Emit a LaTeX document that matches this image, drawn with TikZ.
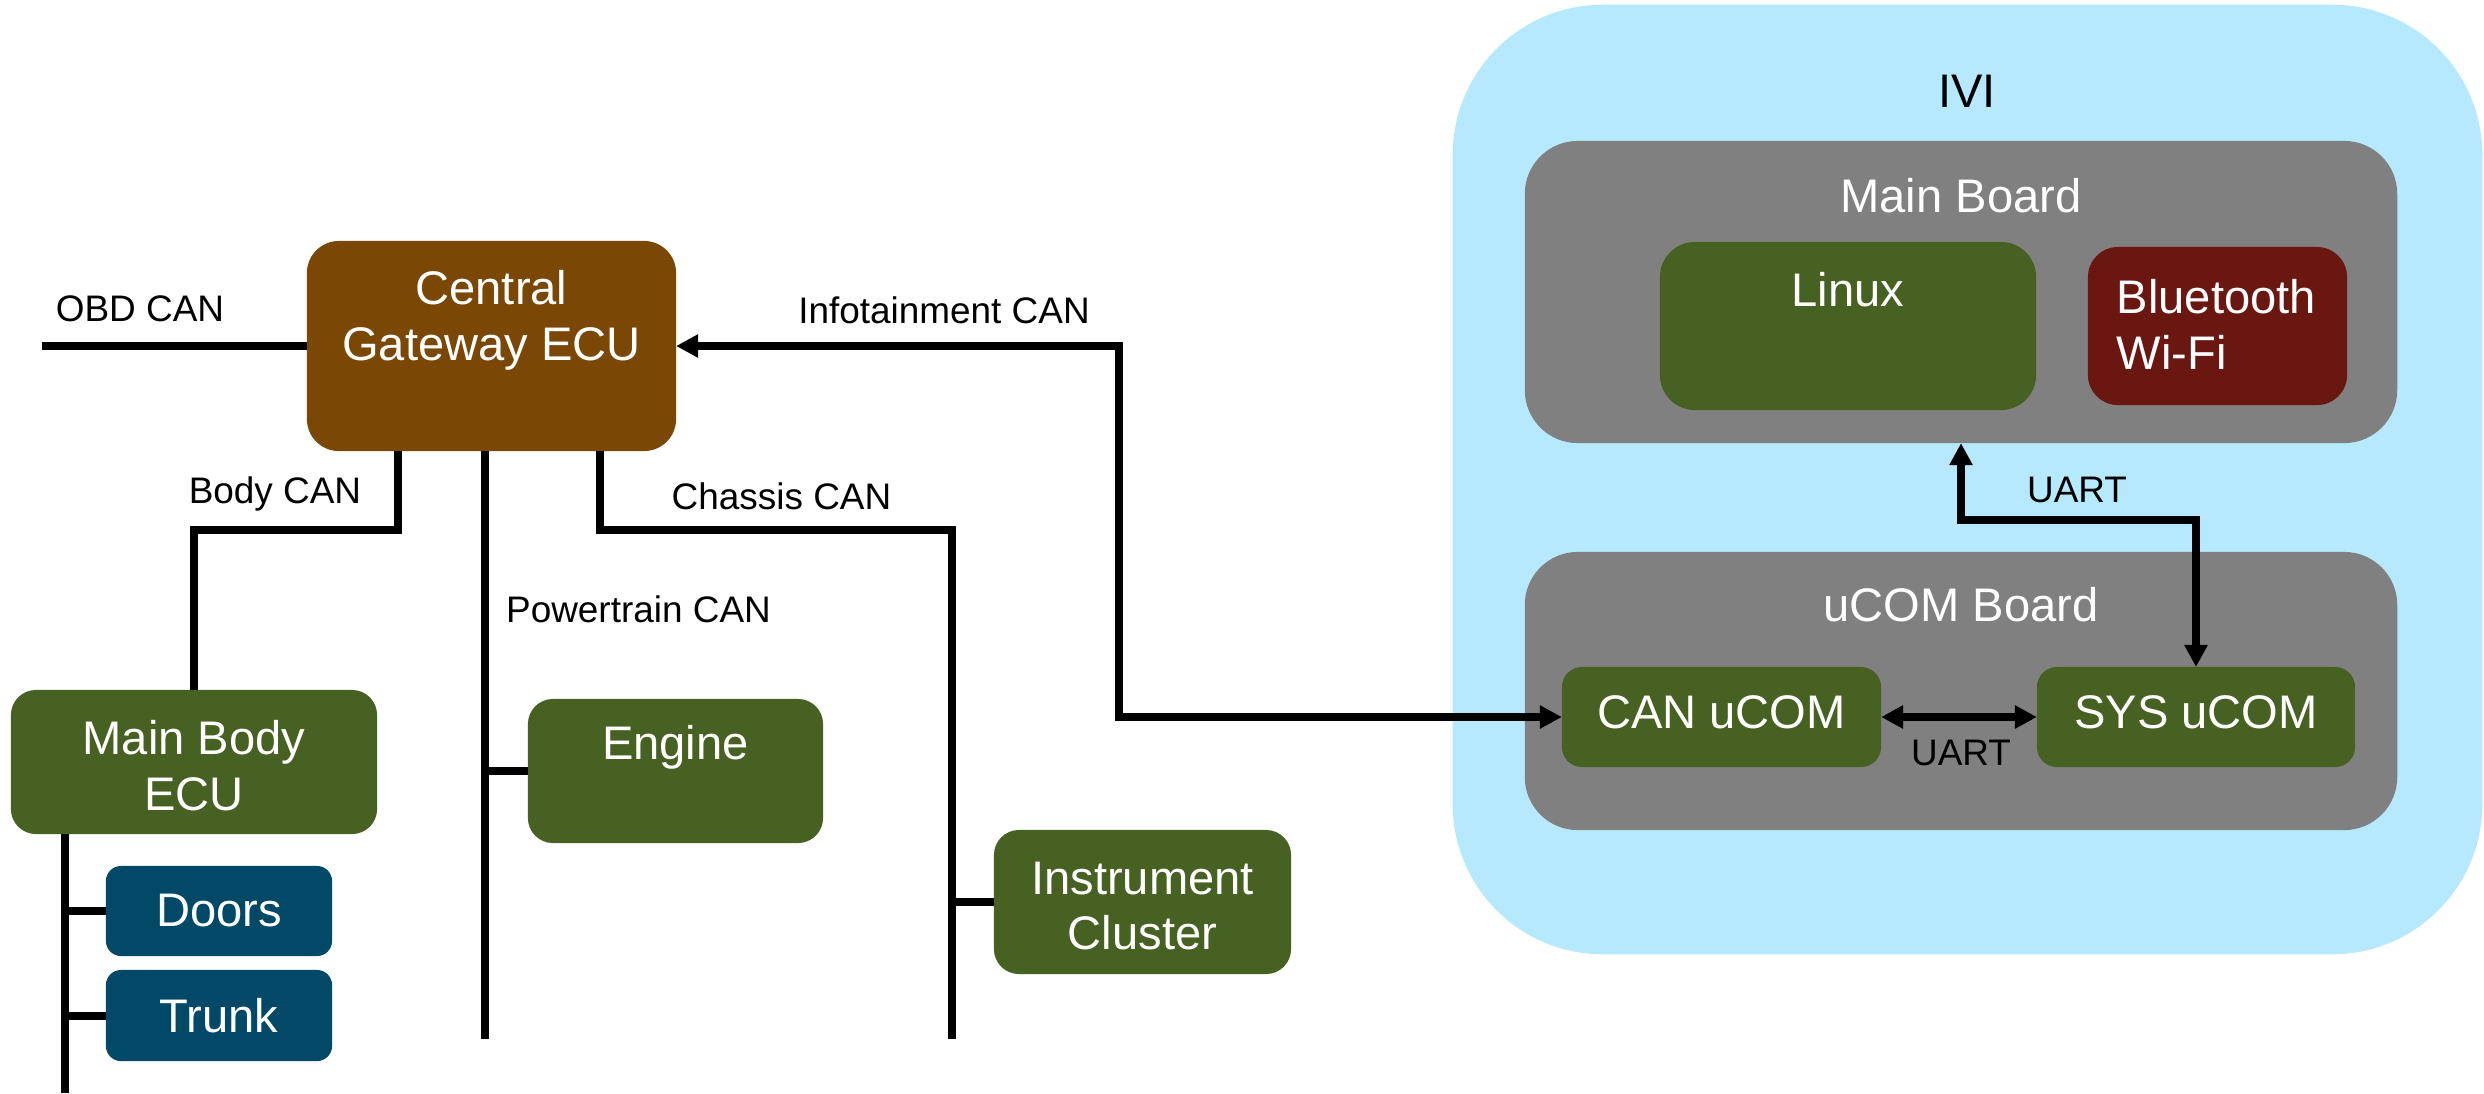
\documentclass[tikz,border=0pt]{standalone}
\usepackage{fontspec}
\setmainfont{Liberation Sans}
\usetikzlibrary{arrows.meta}
\definecolor{gwbrown}{RGB}{123,71,5}
\definecolor{ecugreen}{RGB}{70,97,33}
\definecolor{ecublue}{RGB}{2,73,104}
\definecolor{wifired}{RGB}{107,23,17}
\definecolor{boardgray}{RGB}{128,128,128}
\definecolor{iviblue}{RGB}{182,233,253}
\tikzset{
  box/.style={draw=none, rectangle, inner sep=0pt, outer sep=0pt},
  boxtext/.style={text=white, font=\fontsize{13.4}{15.9}\selectfont, align=center, inner sep=0pt},
  lbl/.style={font=\fontsize{10.5}{12.6}\selectfont, inner sep=0pt},
  bus/.style={line width=0.08cm},
  arr/.style={bus, {Triangle[length=0.22cm,width=0.22cm]}-{Triangle[length=0.22cm,width=0.22cm]}},
}
\begin{document}
\begin{tikzpicture}[x=0.01cm,y=-0.01cm]
\useasboundingbox (0,0) rectangle (2484,1093);

% ---------------- vehicle side ----------------
\node[box, fill=gwbrown, minimum width=3.69cm, minimum height=2.10cm, rounded corners=0.32cm] (cgw) at (491.5,346) {};
\node[boxtext] (cgwt) at (491.5,320) {Central\\Gateway ECU};

\node[box, fill=ecugreen, minimum width=3.66cm, minimum height=1.44cm, rounded corners=0.25cm] (mbe) at (194,762) {};
\node[boxtext] (mbet) at (194,766) {Main Body\\ECU};

\node[box, fill=ecublue, minimum width=2.26cm, minimum height=0.90cm, rounded corners=0.15cm] (doors) at (219,911) {};
\node[boxtext] (doorst) at (219,911) {Doors};
\node[box, fill=ecublue, minimum width=2.26cm, minimum height=0.91cm, rounded corners=0.15cm] (trunk) at (219,1015.5) {};
\node[boxtext] (trunkt) at (219,1015.5) {Trunk};

\node[box, fill=ecugreen, minimum width=2.95cm, minimum height=1.44cm, rounded corners=0.25cm] (engine) at (675.5,771) {};
\node[boxtext] (enginet) at (675.5,747) {Engine};

\node[box, fill=ecugreen, minimum width=2.97cm, minimum height=1.44cm, rounded corners=0.25cm] (ic) at (1142.5,902) {};
\node[boxtext] (ict) at (1142.5,906) {Instrument\\Cluster};

% ---------------- IVI ----------------
\node[box, fill=iviblue, minimum width=10.29cm, minimum height=9.49cm, rounded corners=1.5cm] (ivi) at (1967.5,479.5) {};
\node[font=\fontsize{13.4}{15.9}\selectfont, inner sep=0pt] (ivit) at (1967,91) {IVI};

\node[box, fill=boardgray, minimum width=8.72cm, minimum height=3.02cm, rounded corners=0.53cm] (mb) at (1961,292) {};
\node[boxtext] (mbt) at (1961,196) {Main Board};
\node[box, fill=ecugreen, minimum width=3.76cm, minimum height=1.68cm, rounded corners=0.35cm] (linux) at (1848,326) {};
\node[boxtext] (linuxt) at (1848,290) {Linux};
\node[box, fill=wifired, minimum width=2.59cm, minimum height=1.58cm, rounded corners=0.3cm] (bt) at (2217.5,326) {};
\node[boxtext, align=left, anchor=west] (btt) at (2116,324) {Bluetooth\\Wi-Fi};

\node[box, fill=boardgray, minimum width=8.72cm, minimum height=2.78cm, rounded corners=0.53cm] (ub) at (1961,691) {};
\node[boxtext] (ubt) at (1961,605) {uCOM Board};
\node[box, fill=ecugreen, minimum width=3.19cm, minimum height=1.00cm, rounded corners=0.2cm] (canu) at (1721.5,717) {};
\node[boxtext] (canut) at (1721.5,712) {CAN uCOM};
\node[box, fill=ecugreen, minimum width=3.18cm, minimum height=1.00cm, rounded corners=0.2cm] (sys) at (2196,717) {};
\node[boxtext] (syst) at (2196,712) {SYS uCOM};

% ---------------- buses ----------------
\coordinate (obd) at (42,346);
\draw[bus] (obd) -- (cgw.west);
\node[lbl] (obdt) at (140,309) {OBD CAN};

\coordinate (infbend) at (1119,717);
\draw[arr] (canu.west) -- (infbend) |- (cgw.east);
\node[lbl] (inft) at (944,310) {Infotainment CAN};

\draw[bus] (cgw.south west) ++(91,0) -- ++(0,79) -| (mbe.north);
\node[lbl] (bodyt) at (275,494) {Body CAN};

\draw[bus] (cgw.south west) ++(178,0) -- ++(0,588);
\draw[bus] (engine.west) -- ++(-43,0);
\node[lbl] (ptt) at (638.5,609) {Powertrain CAN};

\coordinate (chassisEnd) at (952,1039);
\draw[bus] (cgw.south west) ++(293,0) -- ++(0,79) -| (chassisEnd);
\draw[bus] (ic.west) -- ++(-42,0);
\node[lbl] (chast) at (781.5,496) {Chassis CAN};

\draw[bus] (mbe.south west) ++(54,0) -- ++(0,259);
\draw[bus] (doors.west) -- ++(-41,0);
\draw[bus] (trunk.west) -- ++(-41,0);

% ---------------- UART links ----------------
\draw[arr] (mb.south) -- ++(0,77) -| (sys.north);
\node[lbl] (uart1) at (2077,490) {UART};
\draw[arr] (canu.east) -- (sys.west);
\node[lbl] (uart2) at (1961,753) {UART};
\end{tikzpicture}
\end{document}
